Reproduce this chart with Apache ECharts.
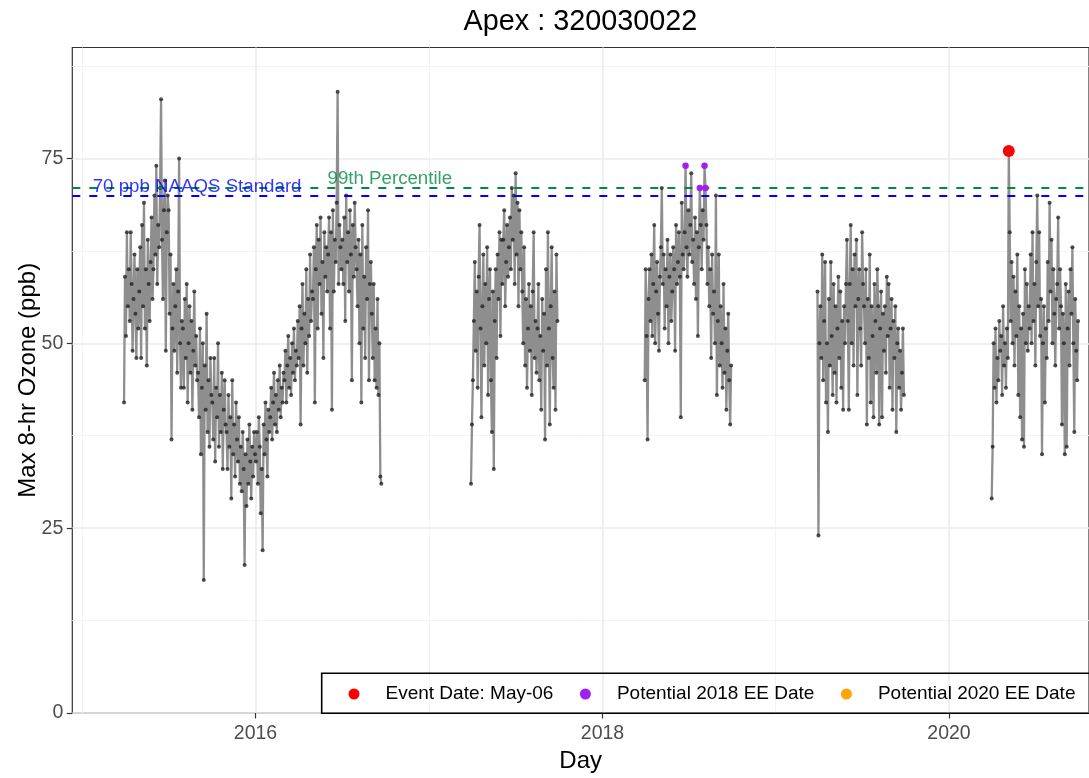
<!DOCTYPE html>
<html><head><meta charset="utf-8">
<script src="https://cdn.jsdelivr.net/npm/echarts@6/dist/echarts.min.js"></script>
<style>html,body{margin:0;padding:0;background:#fff}#c{width:1089px;height:778px}</style>
</head><body><div id="c"></div>
<script>
// ---- data (daily max 8-hr ozone, ppb; one reading every 2 days) ----
const seasonStart = {s1516:'2015-03-30', s17:'2017-03-30', s18:'2018-03-31', s19:'2019-03-30', s20:'2020-03-31'};
const ozone2015_16 = [
 42,59,51,65,55,60,53,65,58,49,56,62,54,48,60,52,
 57,63,48,66,55,69,52,60,47,64,58,53,61,67,56,
 60,70,62,74,58,66,63,71,83,64,56,68,72,49,65,70,
 68,54,62,37,52,58,49,55,60,46,57,75,50,44,53,
 52,44,56,48,58,42,50,55,46,53,41,49,57,47,51,45,
 46,40,52,35,44,50,18,47,41,54,38,45,36,48,43,
 42,37,48,34,44,40,50,36,43,38,46,33,41,45,39,
 38,33,43,36,40,29,45,35,39,32,42,37,34,40,31,
 36,30,38,33,20,35,28,37,31,39,34,29,36,32,38,35,
 34,38,31,40,36,27,33,22,39,35,42,37,32,41,38,
 40,44,37,42,46,39,43,38,45,41,47,40,44,42,46,
 45,49,42,47,51,44,48,43,50,46,52,45,49,47,53,
 48,55,39,52,58,47,54,50,60,46,56,51,62,53,57,
 56,63,42,60,66,52,64,58,67,54,61,48,65,59,63,57,
 62,67,52,65,41,68,57,64,61,69,84,58,66,63,60,
 64,58,67,53,70,61,65,57,68,62,45,66,59,69,63,
 60,55,64,50,62,42,66,52,59,48,63,56,68,45,58,61,
 54,48,58,45,52,44,56,43,50,32,31];
const ozone2017 = [
 31,39,45,53,61,49,57,44,59,66,52,40,55,62,47,58,50,63,43,56,60,45,38,
 57,33,53,60,48,62,56,65,51,64,58,64,68,55,61,66,59,63,
 67,60,71,64,70,58,73,62,69,55,68,60,65,57,
 50,63,47,56,44,52,58,49,55,43,57,65,48,53,
 46,52,58,45,51,41,56,49,54,37,60,47,65,52,39,55,63,48,44,57,41,62,53];
const ozone2018 = [
 45,60,51,37,56,60,53,62,51,58,66,50,57,61,54,49,59,63,
 71,58,62,52,60,55,64,50,59,62,53,57,
 63,60,49,66,58,61,65,59,40,69,62,60,65,
 74,
 63,59,68,62,66,73,61,64,58,67,56,65,51,63,
 71,
 66,60,68,64,
 74,71,
 66,58,63,55,60,48,62,54,57,50,70,43,53,62,47,55,50,44,58,46,52,41,49,54,45,39,47];
const ozone2019 = [
 57,24,50,55,48,62,45,53,61,42,50,38,56,47,
 61,51,43,58,46,55,42,52,59,48,57,44,53,41,55,50,58,
 64,53,41,58,66,50,60,47,62,55,64,43,56,60,52,47,65,58,
 55,50,60,39,56,48,62,42,55,51,40,58,53,46,60,55,39,52,57,40,54,49,
 55,46,59,51,58,44,52,56,41,53,48,55,38,50,52,44,49,41,46,52,43];
const ozone2020 = [
 29,36,50,44,52,42,48,45,53,49,51,43,55,47,50,44,52,48,
 76,
 65,53,61,50,59,47,57,51,62,43,55,40,52,
 37,54,36,60,50,58,49,55,52,62,50,65,53,58,47,61,70,55,65,51,56,
 35,50,55,42,52,48,61,53,69,57,64,50,60,54,47,56,58,67,52,60,55,
 39,54,50,35,58,36,52,57,47,60,54,63,50,38,56,49,45,53];
const eventDates = [['2020-05-06', 76]];
const ee2018Dates = [['2018-06-25', 74], ['2018-07-25', 71], ['2018-08-04', 74], ['2018-08-06', 71]];
const ee2020Dates = [];
const naaqs = 70;
const pct99 = 71;
const xMajorYears = [2016, 2018, 2020];
const xMinorYears = [2015, 2017, 2019];
const yMajorTicks = [0, 25, 50, 75];
const yMinorTicks = [12.5, 37.5, 62.5, 87.5];

// ---- helpers ----
function ts(str) { const p = str.split('-').map(Number); return new Date(p[0], p[1] - 1, p[2]).getTime(); }
function build(start, vals) {
  const p = start.split('-').map(Number);
  return vals.map((v, i) => [new Date(p[0], p[1] - 1, p[2] + 2 * i).getTime(), v]);
}
const pts = arr => arr.map(d => [ts(d[0]), d[1]]);
const yr = y => new Date(y, 0, 1).getTime();
const FONT = '"Liberation Sans", Arial, sans-serif';
const xMin = ts('2014-12-11');
const xMax = ts('2020-10-22');

const lineBase = {
  type: 'line', symbol: 'circle', symbolSize: 4, showSymbol: true, silent: true,
  itemStyle: { color: 'rgba(35,35,35,0.8)' },
  lineStyle: { color: '#8e8e8e', width: 2.3 },
  emphasis: { disabled: true }, z: 2
};
const seasons = [
  [seasonStart.s1516, ozone2015_16], [seasonStart.s17, ozone2017], [seasonStart.s18, ozone2018],
  [seasonStart.s19, ozone2019], [seasonStart.s20, ozone2020]
];
const series = seasons.map((s, k) => Object.assign({}, lineBase, { name: 'ozone' + k, data: build(s[0], s[1]) }));
series[0].markLine = {
  symbol: 'none', silent: true, label: { show: false }, animation: false,
  data: [
    { yAxis: pct99, lineStyle: { color: '#008B45', type: [8, 9], width: 2 } },
    { yAxis: naaqs, lineStyle: { color: '#0000FF', type: [8, 9], width: 2 } }
  ]
};
series.push({
  type: 'scatter', name: 'labels', silent: true, symbolSize: 1, itemStyle: { color: 'transparent' }, z: 5,
  data: [
    { value: [ts('2015-01-24'), naaqs],
      label: { show: true, formatter: '70 ppb NAAQS Standard', position: [0, 0], align: 'left', verticalAlign: 'bottom',
               offset: [0, 1], color: '#0000FF', fontSize: 18.7, fontFamily: FONT } },
    { value: [ts('2016-10-11'), pct99],
      label: { show: true, formatter: '99th Percentile', position: [0, 0], align: 'center', verticalAlign: 'bottom',
               offset: [0, 1], color: '#008B45', fontSize: 18.7, fontFamily: FONT } }
  ]
});
series.push({ type: 'scatter', name: 'Event Date: May-06', data: pts(eventDates), symbolSize: 12, itemStyle: { color: '#FF0000', opacity: 1 }, z: 6, silent: true });
series.push({ type: 'scatter', name: 'Potential 2018 EE Date', data: pts(ee2018Dates), symbolSize: 6.5, itemStyle: { color: '#A020F0', opacity: 1 }, z: 6, silent: true });
series.push({ type: 'scatter', name: 'Potential 2020 EE Date', data: pts(ee2020Dates), symbolSize: 6.5, itemStyle: { color: '#FFA500', opacity: 1 }, z: 6, silent: true });

const chart = echarts.init(document.getElementById('c'), null, { renderer: 'canvas' });
chart.setOption({
  animation: false,
  backgroundColor: '#ffffff',
  textStyle: { fontFamily: FONT },
  title: { text: 'Apex : 320030022', left: 575.5, top: 3, textAlign: 'center',
           textStyle: { fontSize: 28.8, fontWeight: 'normal', color: '#000', fontFamily: FONT } },
  grid: { left: 72.3, top: 47.5, right: -3, bottom: 64.7, show: true, borderColor: '#333333', borderWidth: 1.2, containLabel: false },
  legend: {
    data: ['Event Date: May-06', 'Potential 2018 EE Date', 'Potential 2020 EE Date'],
    left: 348.5, top: 684, width: 1000, padding: 0, icon: 'circle', itemWidth: 11, itemHeight: 11, itemGap: 26.5,
    selectedMode: false,
    textStyle: { fontSize: 19, lineHeight: 20, color: '#000', padding: [0, 0, 0, 21], fontFamily: FONT }
  },
  graphic: [{ type: 'rect', z: 100, silent: true,
              shape: { x: 321.7, y: 673.3, width: 820, height: 40 },
              style: { fill: 'none', stroke: '#000', lineWidth: 1.6 } }],
  xAxis: [{
    type: 'value', min: xMin, max: xMax, scale: true,
    axisLine: { show: false },
    axisTick: { show: true, customValues: xMajorYears.map(yr), length: 5.5, lineStyle: { color: '#333', width: 1.2 } },
    axisLabel: { customValues: xMajorYears.map(yr), formatter: v => String(new Date(v).getFullYear()),
                 color: '#4D4D4D', fontSize: 19.5, margin: 11, fontFamily: FONT },
    splitLine: { show: true, lineStyle: { color: '#ebebeb', width: 1.6 } },
    name: 'Day', nameLocation: 'middle', nameGap: 36,
    nameTextStyle: { fontSize: 24, color: '#000', fontFamily: FONT }
  }, {
    type: 'value', min: xMin, max: xMax, scale: true, position: 'bottom',
    axisLine: { show: false },
    axisTick: { show: false, customValues: xMinorYears.map(yr) },
    axisLabel: { show: false },
    splitLine: { show: true, lineStyle: { color: '#f3f3f3', width: 1 } }
  }],
  yAxis: [{
    type: 'value', min: 0, max: 90,
    axisLine: { show: false },
    axisTick: { show: true, customValues: yMajorTicks, length: 5.5, lineStyle: { color: '#333', width: 1.2 } },
    axisLabel: { customValues: yMajorTicks, color: '#4D4D4D', fontSize: 19.5, margin: 9, fontFamily: FONT },
    splitLine: { show: true, lineStyle: { color: '#ebebeb', width: 1.6 } },
    name: 'Max 8-hr Ozone (ppb)', nameLocation: 'middle', nameGap: 32, nameMoveOverlap: false,
    nameTextStyle: { fontSize: 24, color: '#000', fontFamily: FONT }
  }, {
    type: 'value', min: 0, max: 90, position: 'left',
    axisLine: { show: false },
    axisTick: { show: false, customValues: yMinorTicks },
    axisLabel: { show: false },
    splitLine: { show: true, lineStyle: { color: '#f3f3f3', width: 1 } }
  }],
  series: series
});
</script>
</body></html>
